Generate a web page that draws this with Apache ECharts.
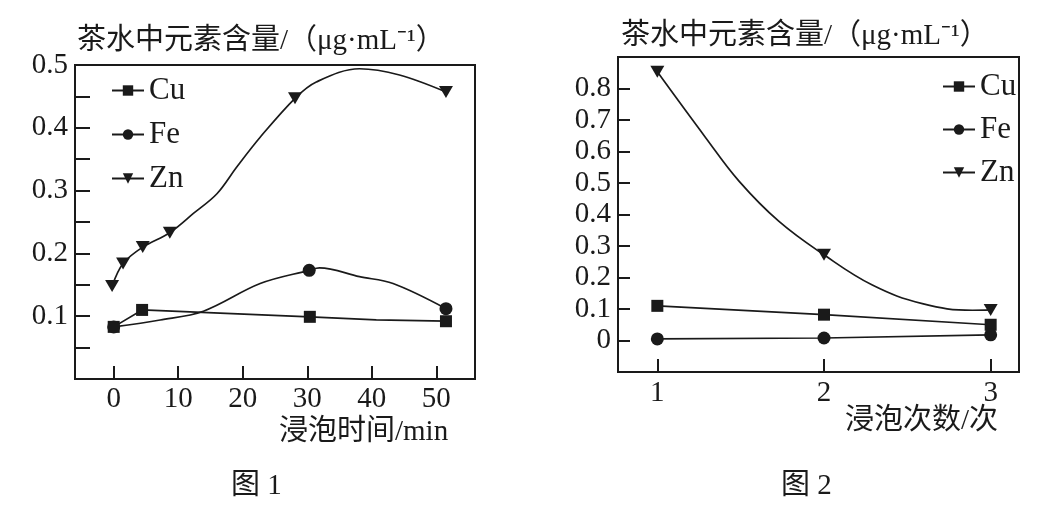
<!DOCTYPE html>
<html>
<head>
<meta charset="utf-8">
<script src="https://cdn.jsdelivr.net/npm/echarts@6/dist/echarts.min.js"></script>
<style>html,body{margin:0;padding:0;background:#fff;}#c{width:1060px;height:506px;}</style>
</head>
<body>
<div id="c"></div>
<script>
// ---- Data ----
var elements = ['Cu', 'Fe', 'Zn'];
var yTitle = '茶水中元素含量/（μg·mL⁻¹）';
var x1Name = '浸泡时间/min';
var x2Name = '浸泡次数/次';
var fig1Label = '图 1';
var fig2Label = '图 2';
var x1Ticks = [0, 10, 20, 30, 40, 50];
var x2Ticks = [1, 2, 3];
// Figure 1: [time(min), content]; points with flag 0 are curve-only (no marker)
var cu1 = [[0, 0.083, 1], [4.4, 0.11, 1], [30.4, 0.099, 1], [40.7, 0.094, 0], [51.5, 0.092, 1]];
var fe1 = [[0, 0.083, 1], [7.2, 0.094, 0], [13.9, 0.108, 0], [22.7, 0.152, 0], [30.3, 0.173, 1], [31.9, 0.177, 0], [38.1, 0.163, 0], [43.3, 0.152, 0], [51.5, 0.112, 1]];
var zn1 = [[-0.25, 0.148, 1], [1.45, 0.184, 1], [4.5, 0.21, 1], [8.7, 0.233, 1], [12.4, 0.264, 0], [16, 0.295, 0], [19.1, 0.338, 0], [22.7, 0.385, 0], [28.1, 0.447, 1], [31.4, 0.473, 0], [38.1, 0.494, 0], [44.3, 0.484, 0], [51.5, 0.457, 1]];
// Figure 2: [times, content]
var cu2 = [[1, 0.11, 1], [2, 0.082, 1], [3, 0.05, 1]];
var fe2 = [[1, 0.005, 1], [2, 0.008, 1], [3, 0.018, 1]];
var zn2 = [[1, 0.853, 1], [1.29, 0.644, 0], [1.49, 0.506, 0], [1.73, 0.378, 0], [2, 0.272, 1], [2.29, 0.176, 0], [2.59, 0.117, 0], [2.89, 0.096, 0], [3, 0.097, 1]];

// ---- Styles ----
var INK = '#1a1a1a';
var SERIF = '"Liberation Serif","Noto Sans CJK SC",serif';
var FS = 29;
var triPath = 'path://M0,0 L14,0 L7,12 Z';
var symbols = { Cu: 'rect', Fe: 'circle', Zn: triPath };
var sizes = { Cu: 12, Fe: 13, Zn: [14, 12] };

function toData(arr) {
  return arr.map(function (p) {
    var d = { value: [p[0], p[1]] };
    if (!p[2]) d.symbol = 'none';
    return d;
  });
}
function mk(name, arr, xi, smooth) {
  return {
    type: 'line', name: name, xAxisIndex: xi, yAxisIndex: xi,
    data: toData(arr), smooth: smooth,
    symbol: symbols[name], symbolSize: sizes[name], showSymbol: true,
    lineStyle: { color: INK, width: 1.7 },
    itemStyle: { color: INK, borderWidth: 0 },
    emphasis: { disabled: true }, animation: false, z: 3
  };
}

var axisBase = {
  axisLine: { show: true, onZero: false, lineStyle: { color: INK, width: 2 } },
  splitLine: { show: false },
  axisLabel: { color: INK, fontFamily: SERIF, fontSize: FS },
  nameTextStyle: { color: INK, fontFamily: SERIF, fontSize: FS }
};
function merge(a, b) { return Object.assign({}, JSON.parse(JSON.stringify(a)), b); }

var chart = echarts.init(document.getElementById('c'), null, { renderer: 'canvas' });
var legendBase = {
  orient: 'vertical', data: elements, itemWidth: 32, itemHeight: 13,
  textStyle: { color: INK, fontFamily: SERIF, fontSize: 31, lineHeight: 29 },
  selectedMode: false
};
var titleStyle = { color: INK, fontFamily: SERIF, fontSize: 29, fontWeight: 'normal' };
chart.setOption({
  backgroundColor: '#fff',
  animation: false,
  title: [
    { text: yTitle, left: 72, top: 22, textStyle: titleStyle },
    { text: yTitle, left: 616, top: 17, textStyle: titleStyle },
    { text: fig1Label, left: 226, top: 467, textStyle: { color: INK, fontFamily: SERIF, fontSize: 29, fontWeight: 'normal' } },
    { text: fig2Label, left: 776, top: 467, textStyle: { color: INK, fontFamily: SERIF, fontSize: 29, fontWeight: 'normal' } }
  ],
  legend: [
    merge(legendBase, { left: 106, top: 70, itemGap: 13 }),
    merge(legendBase, { left: 937, top: 66, itemGap: 12 })
  ],
  grid: [
    { left: 75, top: 65, width: 400, height: 314, show: true, borderColor: INK, borderWidth: 2, backgroundColor: 'transparent', containLabel: false, outerBoundsMode: 'none' },
    { left: 618, top: 57, width: 401, height: 315, show: true, borderColor: INK, borderWidth: 2, backgroundColor: 'transparent', containLabel: false, outerBoundsMode: 'none' }
  ],
  xAxis: [
    merge(axisBase, {
      type: 'value', gridIndex: 0, min: -6, max: 56,
      name: x1Name, nameLocation: 'end', nameGap: -196, nameMoveOverlap: false,
      nameTextStyle: { color: INK, fontFamily: SERIF, fontSize: FS, align: 'left', verticalAlign: 'top', padding: [39, 0, 0, 0] },
      axisTick: { show: true, inside: true, length: 13, customValues: x1Ticks, lineStyle: { color: INK, width: 2 } },
      axisLabel: { color: INK, fontFamily: SERIF, fontSize: FS, margin: 6, customValues: x1Ticks }
    }),
    merge(axisBase, {
      type: 'value', gridIndex: 1, min: 0.764, max: 3.17,
      name: x2Name, nameLocation: 'end', nameGap: -174, nameMoveOverlap: false,
      nameTextStyle: { color: INK, fontFamily: SERIF, fontSize: FS, align: 'left', verticalAlign: 'top', padding: [35, 0, 0, 0] },
      axisTick: { show: true, inside: true, length: 13, customValues: x2Ticks, lineStyle: { color: INK, width: 2 } },
      axisLabel: { color: INK, fontFamily: SERIF, fontSize: FS, margin: 7, customValues: x2Ticks }
    })
  ],
  yAxis: [
    merge(axisBase, {
      type: 'value', gridIndex: 0, min: 0, max: 0.5, interval: 0.05,
      axisTick: { show: true, inside: true, length: 15, lineStyle: { color: INK, width: 2 } },
      axisLabel: {
        color: INK, fontFamily: SERIF, fontSize: FS, margin: 7,
        formatter: function (v) { var r = Math.round(v * 100); return (r % 10 === 0 && r > 0) ? (r / 100).toFixed(1) : ''; }
      }
    }),
    merge(axisBase, {
      type: 'value', gridIndex: 1, min: -0.1, max: 0.9, interval: 0.1,
      axisTick: { show: true, inside: true, length: 12, lineStyle: { color: INK, width: 2 } },
      axisLabel: {
        color: INK, fontFamily: SERIF, fontSize: FS, margin: 7,
        formatter: function (v) { var r = Math.round(v * 10); if (r < 0 || r > 8) return ''; return r === 0 ? '0' : (r / 10).toFixed(1); }
      }
    })
  ],
  series: [
    mk('Cu', cu1, 0, false),
    mk('Fe', fe1, 0, 0.35),
    mk('Zn', zn1, 0, 0.35),
    mk('Cu', cu2, 1, false),
    mk('Fe', fe2, 1, false),
    mk('Zn', zn2, 1, 0.4)
  ]
});
</script>
</body>
</html>
